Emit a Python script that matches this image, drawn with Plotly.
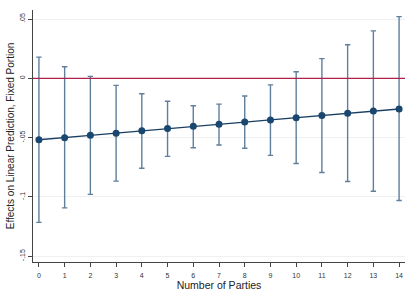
import plotly.graph_objects as go

parties = list(range(15))
estimate = [-0.0518, -0.0502, -0.0481, -0.0463, -0.0443, -0.0424, -0.0405, -0.0387,
            -0.0369, -0.0351, -0.0332, -0.0313, -0.0294, -0.0276, -0.0259]
upper = [0.0179, 0.0098, 0.0016, -0.0060, -0.0130, -0.0193, -0.0231, -0.0218,
         -0.0149, -0.0055, 0.0055, 0.0166, 0.0283, 0.0400, 0.0520]
lower = [-0.1215, -0.1093, -0.0979, -0.0867, -0.0759, -0.0658, -0.0585, -0.0562,
         -0.0590, -0.0650, -0.0718, -0.0794, -0.0870, -0.0952, -0.1030]
y_ticks = [0.05, 0, -0.05, -0.1, -0.15]
y_tick_labels = [".05", "0", "-.05", "-.1", "-.15"]

err_plus = [u - e for u, e in zip(upper, estimate)]
err_minus = [e - l for e, l in zip(estimate, lower)]

fig = go.Figure()
fig.add_trace(go.Scatter(
    x=parties, y=estimate, mode="markers",
    marker=dict(size=1, color="rgba(0,0,0,0)"),
    error_y=dict(type="data", symmetric=False, array=err_plus, arrayminus=err_minus,
                 color="#5f7f9c", thickness=1.4, width=2.7),
    showlegend=False, hoverinfo="skip"))
fig.add_trace(go.Scatter(
    x=parties, y=estimate, mode="lines+markers",
    line=dict(color="#1a3f63", width=1.3),
    marker=dict(size=7, color="#1a476f"),
    showlegend=False))

fig.add_shape(type="line", xref="paper", yref="y", x0=0, x1=1, y0=0, y1=0,
              line=dict(color="#b2204a", width=1.3))

fig.update_layout(
    width=419, height=300,
    margin=dict(l=31, r=14, t=10, b=30),
    paper_bgcolor="white", plot_bgcolor="white",
    font=dict(family="Liberation Sans, Arial, sans-serif", color="#222"),
    xaxis=dict(
        range=[-0.23, 14.23], tickmode="array", tickvals=parties,
        ticktext=[str(p) for p in parties],
        showgrid=False, zeroline=False, showline=True, linecolor="#444", linewidth=1,
        ticks="outside", ticklen=4, tickcolor="#444", tickfont=dict(size=7, color="#333"),
        ticklabelstandoff=3,
        title=dict(text="Number of Parties", font=dict(size=10.5, color="#222"), standoff=3)),
    yaxis=dict(
        range=[-0.1549, 0.0576], tickmode="array", tickvals=y_ticks, ticktext=y_tick_labels,
        tickangle=-90, showgrid=True, gridcolor="#eef0f2", gridwidth=1, zeroline=False,
        showline=True, linecolor="#444", linewidth=1,
        ticks="outside", ticklen=4, tickcolor="#444", tickfont=dict(size=7, color="#333"),
        title=dict(text="Effects on Linear Prediction, Fixed Portion",
                   font=dict(size=10, color="#222"), standoff=2)),
)

fig.write_html("out.html")
